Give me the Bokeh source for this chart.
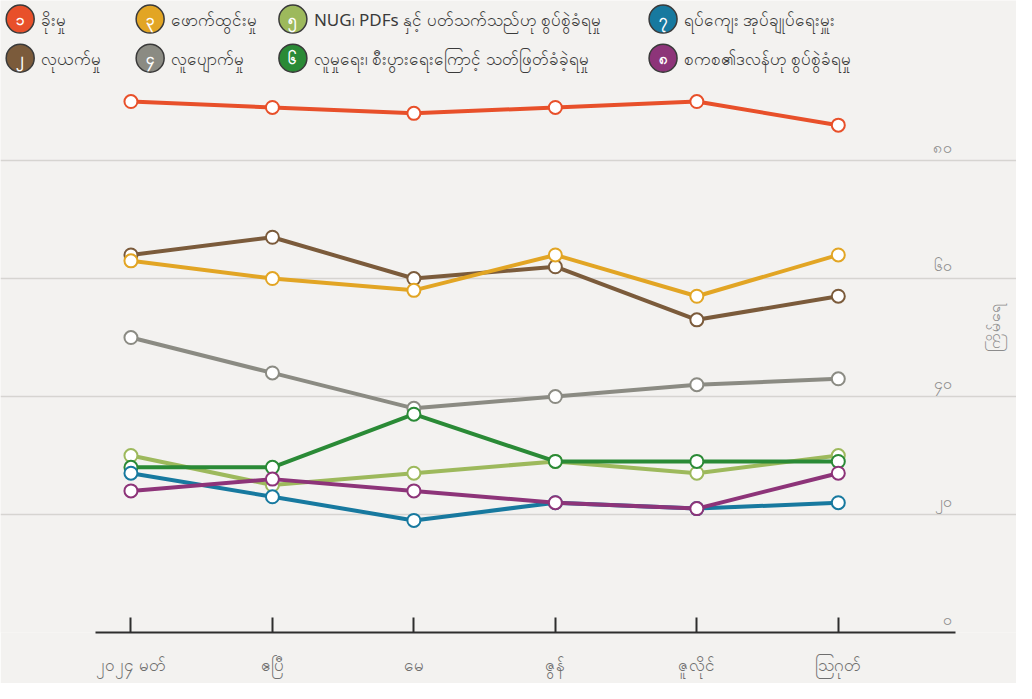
import math
from bokeh.plotting import figure
from bokeh.models import Range1d, FixedTicker, Grid
from bokeh.core.properties import value
from bokeh.embed import file_html
from bokeh.resources import INLINE

# ---------------- data ----------------
months = ["၂၀၂၄ မတ်", "ဧပြီ", "မေ", "ဇွန်", "ဇူလိုင်", "ဩဂုတ်"]
y_ticks = [0, 20, 40, 60, 80]
y_tick_labels = ["၀", "၂၀", "၄၀", "၆၀", "၈၀"]
y_title = "ကြိမ်ရေ"

theft = [90, 89, 88, 89, 90, 86]
robbery = [64, 67, 60, 62, 53, 57]
burglary = [63, 60, 58, 64, 57, 64]
missing = [50, 44, 38, 40, 42, 43]
nug_accused = [30, 25, 27, 29, 27, 30]
killed = [28, 28, 37, 29, 29, 29]
admin = [27, 23, 19, 22, 21, 22]
informant = [24, 26, 24, 22, 21, 27]

series_numbers = ["၁", "၂", "၃", "၄", "၅", "၆", "၇", "၈"]
series_names = [
    "ခိုးမှု",
    "လုယက်မှု",
    "ဖောက်ထွင်းမှု",
    "လူပျောက်မှု",
    "NUG၊ PDFs နှင့် ပတ်သက်သည်ဟု စွပ်စွဲခံရမှု",
    "လူမှုရေး၊ စီးပွားရေးကြောင့် သတ်ဖြတ်ခံခဲ့ရမှု",
    "ရပ်ကျေး အုပ်ချုပ်ရေးမှူး",
    "စကစ၏ဒလန်ဟု စွပ်စွဲခံရမှု",
]
series_values = [theft, robbery, burglary, missing, nug_accused, killed, admin, informant]
series_colors = ["#e8502a", "#7b5b3b", "#e2a524", "#8b8b83",
                 "#9db95c", "#2a8a36", "#17799f", "#8d3479"]

# ---------------- layout (reference pixels -> figure) ----------------
W, H = 1016, 683
REF_W, REF_H = 1032, 699
SX, SY = W / REF_W, H / REF_H
AXIS_Y_REF = 647
BB = int(round(H - AXIS_Y_REF * SY))
FH = H - BB
CAT_REF = 143.7              # reference px between months
X0 = -132.5 / CAT_REF
X1 = X0 + REF_W / CAT_REF
UNIT_REF = 120.75 / 20       # reference px per count
Y1 = FH / (UNIT_REF * SY)

def px_x(ref_x):
    return X0 + ref_x / CAT_REF

def px_y(ref_y):
    return Y1 - ref_y / UNIT_REF

BG = "#f3f2f0"
FONT = value("Noto Sans")

p = figure(width=W, height=H, output_backend="svg", toolbar_location=None,
           x_range=Range1d(X0, X1), y_range=Range1d(0, Y1),
           y_axis_location=None, min_border_left=0, min_border_right=0,
           min_border_top=0, min_border_bottom=BB)
p.background_fill_color = BG
p.border_fill_color = BG
p.outline_line_color = None
p.grid.visible = False

axis_bounds = (px_x(97), px_x(970))

grid = Grid(dimension=1, ticker=FixedTicker(ticks=y_ticks[1:]), bounds=axis_bounds,
            grid_line_color="#d6d4d1", grid_line_width=1.5)
p.add_layout(grid)

ax = p.xaxis[0]
ax.bounds = axis_bounds
ax.ticker = FixedTicker(ticks=list(range(len(months))))
ax.major_label_overrides = {i: m for i, m in enumerate(months)}
ax.axis_line_color = "#2e2e2e"
ax.axis_line_width = 2
ax.major_tick_in = 15
ax.major_tick_out = 0
ax.major_tick_line_color = "#2e2e2e"
ax.major_tick_line_width = 2
ax.minor_tick_line_color = None
ax.major_label_text_color = "#6e6e6e"
ax.major_label_text_font_size = "17px"
ax.major_label_text_font = "Noto Sans"
ax.major_label_standoff = 20

# y tick labels drawn above gridlines on the right
p.text(x=[px_x(966)] * len(y_ticks), y=y_ticks, text=y_tick_labels,
       y_offset=-3, text_align="right", text_baseline="bottom",
       text_color="#8c8c8c", text_font_size="16px", text_font=FONT)

# y axis title
p.text(x=[px_x(1009)], y=[px_y(335)], text=[y_title], angle=math.pi / 2,
       text_align="center", text_baseline="middle",
       text_color="#8c8c8c", text_font_size="16px", text_font=FONT)

xs = list(range(len(months)))
for vals, col in zip(series_values, series_colors):
    p.line(xs, vals, line_color=col, line_width=4)
    p.scatter(xs, vals, size=13, fill_color="white", line_color=col, line_width=2)

# legend
col_cx = [20, 152, 297, 673]
row_cy = [19, 59]
for i, (num, name, col) in enumerate(zip(series_numbers, series_names, series_colors)):
    c, r = i // 2, i % 2
    cx, cy = px_x(col_cx[c]), px_y(row_cy[r])
    p.scatter([cx], [cy], size=28, fill_color=col, line_color="#3a3a3a", line_width=1.5)
    p.text([cx], [cy], text=[num], text_align="center", text_baseline="middle",
           text_color="white", text_font_size="15px", text_font_style="bold", text_font=FONT)
    p.text([cx], [cy], text=[name], x_offset=21, text_align="left", text_baseline="middle",
           text_color="#3a3a3a", text_font_size="17px", text_font=FONT)

open("out.html", "w").write(file_html(p, INLINE))
